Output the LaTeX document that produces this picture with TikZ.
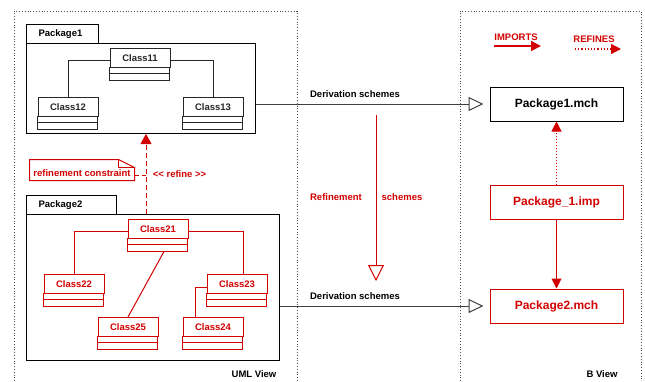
\documentclass[tikz,border=0pt]{standalone}
\usepackage{fontspec}
\setmainfont{Liberation Sans}
\usepackage{tikz}
\usetikzlibrary{arrows.meta}
\definecolor{umlred}{RGB}{210,0,0}

\begin{document}
\begin{tikzpicture}[x=1pt, y=-1pt, line width=1pt,
  txt/.style={font=\bfseries\fontsize{9.5}{11}\selectfont, inner sep=0pt},
  cls/.style={txt, draw, minimum width=60pt, minimum height=18.5pt, anchor=north},
  tab/.style={txt, draw, anchor=north west, align=left, inner xsep=12pt, minimum height=19pt},
  pkg/.style={draw, anchor=north west, inner sep=0pt},
  mch/.style={draw, font=\bfseries\fontsize{12}{14}\selectfont, minimum width=133pt, minimum height=34pt},
  frame/.style={dotted, line width=0.8pt, color=black!70},
  derive/.style={black!75, -{Triangle[open, length=15pt, width=14pt, fill=white]}},
  refscheme/.style={umlred, -{Triangle[open, length=16pt, width=16pt, fill=white]}},
  imports/.style={umlred, -{Triangle[length=10pt, width=10pt]}},
  refines/.style={umlred, dotted, -{Triangle[length=10pt, width=10pt]}},
  refinearr/.style={umlred, dash pattern=on 5pt off 3pt, -{Triangle[length=10pt, width=11pt]}}]
\useasboundingbox (0,0) rectangle (645,381);
%%%%% Views %%%%%
\draw[frame] (14,381) |- (297,11) -- (297,381);
\draw[frame] (460,381) |- (641,11) -- (641,381);
\node[txt] (UMLView) at (254,374) {UML View};
\node[txt] (BView) at (602,374) {B View};
%%%%% Packages %%%%%
\node[tab, text width=48pt] (Tab1) at (26,24) {Package1};
\node[pkg, minimum width=229pt, minimum height=90pt] (Package1) at (26,43) {};
\node[tab, text width=66pt] (Tab2) at (26,195) {Package2};
\node[pkg, minimum width=253pt, minimum height=146pt] (Package2) at (26,214) {};
\foreach \name/\x/\y/\col in {Class11/140/48/black!85, Class12/68/97/black!85, Class13/213/97/black!85,
  Class21/158/219/umlred, Class22/74/274/umlred, Class23/237/274/umlred,
  Class25/128/317/umlred, Class24/213/317/umlred}{
\node[cls, draw=\col, text=\col] (\name) at (\x,\y) {\name};
\draw[\col] (\name.south west) rectangle ++(60,6) rectangle ++(-60,7);
}
\draw[black!85] ([yshift=-3pt]Class11.west) -| (Class12.north);
\draw[black!85] ([yshift=-3pt]Class11.east) -| (Class13.north);
\draw[umlred] ([yshift=-3pt]Class21.west) -| (Class22.north);
\draw[umlred] ([yshift=-3pt]Class21.east) -| ([xshift=6pt]Class23.north);
\draw[umlred] ([xshift=6pt,yshift=-13pt]Class21.south) -- (Class25.north);
\draw[umlred] ([yshift=-4pt]Class23.west) -| ([xshift=-18pt]Class24.north);
%%%%% Refine constraint %%%%%
\draw[refinearr] ([xshift=120pt]Package2.north west) -- ([xshift=120pt]Package1.south west);
\node[txt, text=umlred, minimum width=104pt, minimum height=20pt, text height=13pt, text depth=0pt] (Note) at (82,170) {refinement constraint};
\draw[umlred] (Note.south west) |- ([xshift=-16pt]Note.north east) -- ([yshift=-8pt]Note.north east) -- (Note.south east) -- cycle;
\draw[umlred] ([xshift=-16pt]Note.north east) -- ++(0,8) -- ([yshift=-8pt]Note.north east);
\coordinate (RefineMid) at (146,175);
\draw[umlred, dash pattern=on 4pt off 3pt] ([yshift=-5pt]Note.east) -- (RefineMid);
\node[txt, text=umlred] (RefineLbl) at (179.5,174) {<\kern0pt< refine >\kern0pt>};
%%%%% B machines %%%%%
\node[mch] (Package1mch) at (556.5,104) {Package1.mch};
\node[mch, draw=umlred, text=umlred] (Package1imp) at (556.5,202) {Package\_1.imp};
\node[mch, draw=umlred, text=umlred] (Package2mch) at (556.5,306) {Package2.mch};
\draw[refines] (Package1imp.north) -- (Package1mch.south);
\draw[imports] (Package1imp.south) -- (Package2mch.north);
%%%%% Schemes %%%%%
\draw[derive] (Package1mch.west -| Package1.east) -- ([xshift=-6pt]Package1mch.west);
\node[txt] (Deriv1) at (355,94) {Derivation schemes};
\draw[derive] (Package2mch.west -| Package2.east) -- ([xshift=-6pt]Package2mch.west);
\node[txt] (Deriv2) at (355,296) {Derivation schemes};
\coordinate (RefTop) at (376,115);
\coordinate (RefBot) at (376,281);
\draw[refscheme] (RefTop) -- (RefBot);
\node[txt, text=umlred] (RefLbl) at (336,197) {Refinement};
\node[txt, text=umlred] (SchLbl) at (402,197) {schemes};
%%%%% Legend %%%%%
\node[txt, text=umlred] (ImpLbl) at (516,37) {IMPORTS};
\coordinate (ImpA) at (494,46);
\coordinate (ImpB) at (541,46);
\draw[imports, line width=1.5pt] (ImpA) -- (ImpB);
\node[txt, text=umlred] (RefsLbl) at (594,39) {REFINES};
\coordinate (RefsA) at (575,49);
\coordinate (RefsB) at (621,49);
\draw[refines, line width=1.2pt] (RefsA) -- (RefsB);
\end{tikzpicture}
\end{document}
